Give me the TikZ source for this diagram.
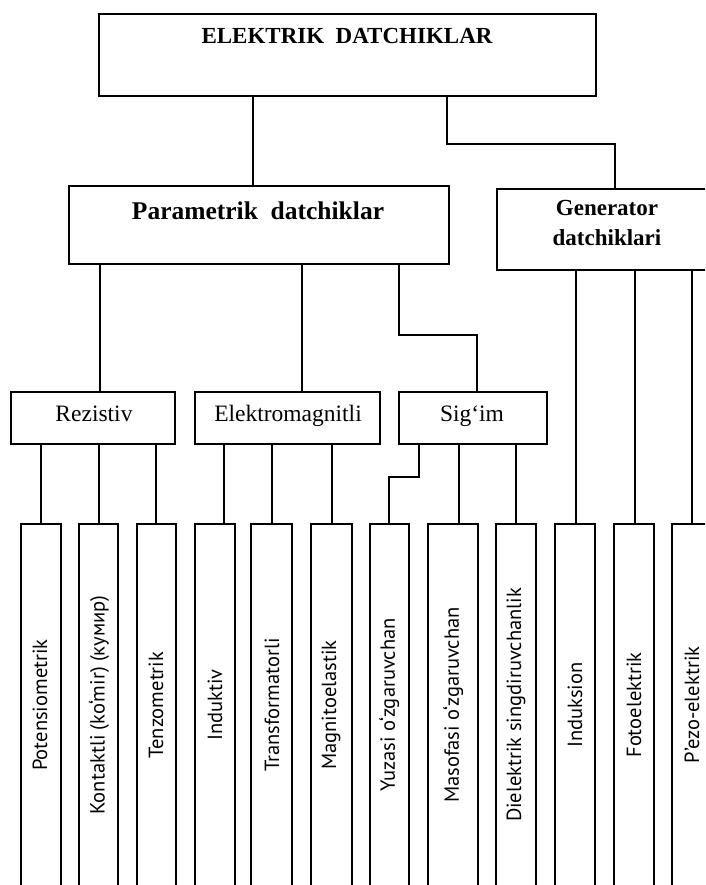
\documentclass[tikz,border=0pt]{standalone}
\usepackage{fontspec}
\setmainfont{Liberation Serif}
\newfontfamily\labfont{PT Sans}
\usetikzlibrary{calc}
\newcommand\mkbox[5]{\node[box,minimum width={#4-#2},minimum height={#5-#3}] (#1) at ({(#2+#4)/2},{(#3+#5)/2}) {};}
\begin{document}
\begin{tikzpicture}[x=1pt,y=-1pt,
  box/.style={draw,line width=1.1pt,rectangle,inner sep=0pt,outer sep=0pt},
  wire/.style={line width=1.1pt},
  hd/.style={font=\bfseries\fontsize{23}{27}\selectfont,anchor=base,inner sep=0pt},
  hdbig/.style={font=\bfseries\fontsize{25.5}{29}\selectfont,anchor=base,inner sep=0pt},
  mid/.style={font=\fontsize{23.5}{27}\selectfont,anchor=base,inner sep=0pt},
  lab/.style={font=\labfont\fontsize{20.5}{24}\selectfont,rotate=90,inner sep=0pt}]
\useasboundingbox (0,0) rectangle (705,885);
\clip (0,0) rectangle (705,885);
% boxes
\mkbox{top}{99}{14}{596}{96}
\mkbox{param}{69}{186}{449}{264}
\mkbox{gen}{497}{189}{717}{270}
\mkbox{rez}{11}{392}{175}{444}
\mkbox{elm}{195}{392}{380}{444}
\mkbox{sig}{399}{392}{547}{444}
\mkbox{b1}{21}{524}{61}{910}
\mkbox{b2}{79}{524}{118}{910}
\mkbox{b3}{137}{524}{176}{910}
\mkbox{b4}{195}{524}{235}{910}
\mkbox{b5}{251}{524}{292}{910}
\mkbox{b6}{311}{524}{352}{910}
\mkbox{b7}{370}{524}{409}{910}
\mkbox{b8}{428}{524}{478}{910}
\mkbox{b9}{496}{524}{536}{910}
\mkbox{b10}{555}{524}{595}{910}
\mkbox{b11}{614}{524}{654}{910}
\mkbox{b12}{672}{524}{712}{910}
% texts
\node[hd] (ttop) at (347,44) {ELEKTRIK\ \ DATCHIKLAR};
\node[hdbig] (tparam) at (258,219) {Parametrik\ \ datchiklar};
\node[hd] (tgen1) at (607,216) {Generator};
\node[hd] (tgen2) at (607,245) {datchiklari};
\node[mid] (trez) at (94,421) {Rezistiv};
\node[mid] (telm) at (288,421) {Elektromagnitli};
\node[mid] (tsig) at (472,421) {Sig‘im};
\node[lab] (l1) at (40,705) {Potensiometrik};
\node[lab] (l2) at (99,705) {Kontaktli (ko‘mir) (кумир)};
\node[lab] (l3) at (156,705) {Tenzometrik};
\node[lab] (l4) at (215,705) {Induktiv};
\node[lab] (l5) at (272,705) {Transformatorli};
\node[lab] (l6) at (331,705) {Magnitoelastik};
\node[lab] (l7) at (389,705) {Yuzasi o‘zgaruvchan};
\node[lab] (l8) at (453,705) {Masofasi o‘zgaruvchan};
\node[lab] (l9) at (516,705) {Dielektrik singdiruvchanlik};
\node[lab] (l10) at (575,705) {Induksion};
\node[lab] (l11) at (634,705) {Fotoelektrik};
\node[lab] (l12) at (692,705) {P’ezo-elektrik};
% x positions and bends
\coordinate (xa) at (253,0);
\coordinate (xr) at (100,0);
\coordinate (xe) at (302,0);
\coordinate (k1) at (447,144);
\coordinate (k2) at (615,144);
\coordinate (k3) at (399,335);
\coordinate (k4) at (477,335);
\coordinate (k5) at (419,477);
\coordinate (k6) at (389,477);
\coordinate (x1) at (41,0);
\coordinate (x2) at (99,0);
\coordinate (x3) at (156,0);
\coordinate (x4) at (224,0);
\coordinate (x5) at (272,0);
\coordinate (x6) at (332,0);
\coordinate (x8) at (459,0);
\coordinate (x9) at (516,0);
\coordinate (x10) at (576,0);
\coordinate (x11) at (635,0);
\coordinate (x12) at (692,0);
% connectors
\draw[wire] (top.south -| xa) -- (param.north -| xa);
\draw[wire] (top.south -| k1) -- (k1) -- (k2) -- (gen.north -| k2);
\draw[wire] (param.south -| xr) -- (rez.north -| xr);
\draw[wire] (param.south -| xe) -- (elm.north -| xe);
\draw[wire] (param.south -| k3) -- (k3) -- (k4) -- (sig.north -| k4);
\draw[wire] (rez.south -| x1) -- (b1.north -| x1);
\draw[wire] (rez.south -| x2) -- (b2.north -| x2);
\draw[wire] (rez.south -| x3) -- (b3.north -| x3);
\draw[wire] (elm.south -| x4) -- (b4.north -| x4);
\draw[wire] (elm.south -| x5) -- (b5.north -| x5);
\draw[wire] (elm.south -| x6) -- (b6.north -| x6);
\draw[wire] (sig.south -| k5) -- (k5) -- (k6) -- (b7.north -| k6);
\draw[wire] (sig.south -| x8) -- (b8.north -| x8);
\draw[wire] (sig.south -| x9) -- (b9.north -| x9);
\draw[wire] (gen.south -| x10) -- (b10.north -| x10);
\draw[wire] (gen.south -| x11) -- (b11.north -| x11);
\draw[wire] (gen.south -| x12) -- (b12.north -| x12);
\end{tikzpicture}
\end{document}
